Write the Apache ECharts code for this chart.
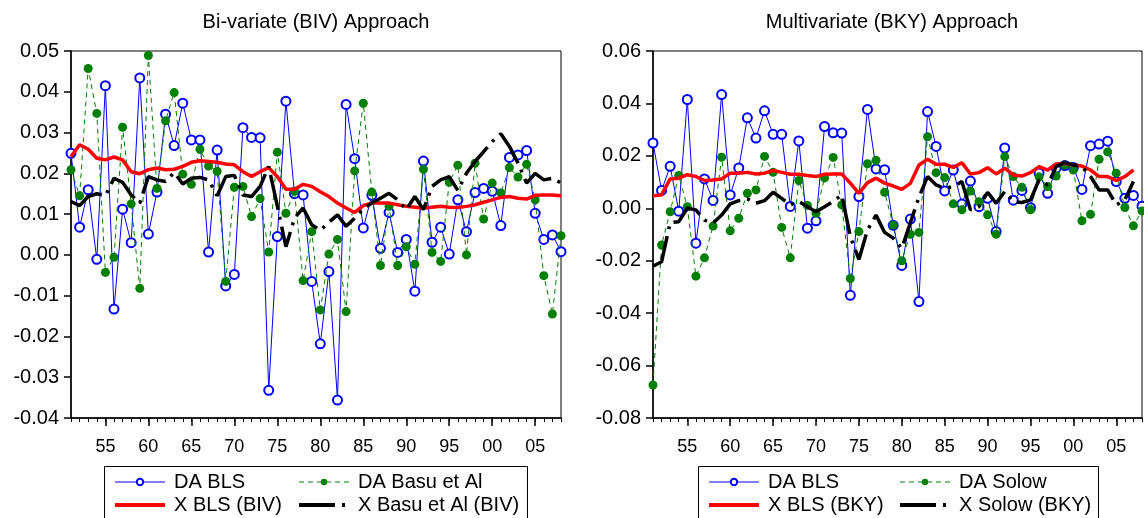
<!DOCTYPE html>
<html><head><meta charset="utf-8">
<script src="https://cdn.jsdelivr.net/npm/echarts@6/dist/echarts.min.js"></script>
<style>html,body{margin:0;padding:0;background:#fff}#c{width:1144px;height:518px}</style>
</head><body><div id="c"></div>
<script>
const years = [1951,1952,1953,1954,1955,1956,1957,1958,1959,1960,1961,1962,1963,1964,1965,1966,1967,1968,1969,1970,
1971,1972,1973,1974,1975,1976,1977,1978,1979,1980,1981,1982,1983,1984,1985,1986,1987,1988,1989,1990,
1991,1992,1993,1994,1995,1996,1997,1998,1999,2000,2001,2002,2003,2004,2005,2006,2007,2008];
const majorYears = [1955,1960,1965,1970,1975,1980,1985,1990,1995,2000,2005];

const daBLS = [0.0249,0.0068,0.0160,-0.0011,0.0415,-0.0133,0.0112,0.0030,0.0434,0.0051,
0.0154,0.0345,0.0268,0.0372,0.0282,0.0282,0.0007,0.0257,-0.0076,-0.0048,
0.0312,0.0288,0.0287,-0.0332,0.0045,0.0377,0.0150,0.0147,-0.0065,-0.0218,
-0.0041,-0.0356,0.0369,0.0236,0.0066,0.0146,0.0016,0.0104,0.0006,0.0038,
-0.0089,0.0230,0.0031,0.0068,0.0002,0.0135,0.0057,0.0153,0.0163,0.0156,
0.0072,0.0239,0.0245,0.0256,0.0102,0.0038,0.0049,0.0008];

const daBasu = [0.0209,0.0145,0.0457,0.0347,-0.0043,-0.0006,0.0313,0.0125,-0.0082,0.0489,
0.0163,0.0329,0.0398,0.0198,0.0173,0.0259,0.0218,0.0205,-0.0065,0.0166,
0.0168,0.0094,0.0138,0.0007,0.0252,0.0102,0.0156,-0.0063,0.0057,-0.0135,
0.0002,0.0038,-0.0139,0.0206,0.0372,0.0154,-0.0026,0.0119,-0.0026,0.0020,
-0.0023,0.0210,0.0006,-0.0016,0.0178,0.0220,0.0000,0.0225,0.0088,0.0176,
0.0152,0.0214,0.0191,0.0222,0.0135,-0.0051,-0.0145,0.0047];

const xBLSBIV = [0.0241,0.0270,0.0259,0.0237,0.0233,0.0240,0.0233,0.0204,0.0199,0.0209,
0.0213,0.0209,0.0210,0.0217,0.0227,0.0231,0.0229,0.0227,0.0223,0.0221,
0.0204,0.0192,0.0204,0.0214,0.0192,0.0161,0.0161,0.0173,0.0168,0.0155,
0.0143,0.0127,0.0115,0.0104,0.0121,0.0127,0.0127,0.0127,0.0123,0.0119,
0.0117,0.0115,0.0117,0.0119,0.0117,0.0116,0.0119,0.0123,0.0129,0.0135,
0.0141,0.0143,0.0139,0.0137,0.0146,0.0147,0.0147,0.0145];

const xBasuBIV = [0.0131,0.0121,0.0143,0.0150,0.0145,0.0188,0.0178,0.0147,0.0127,0.0192,
0.0184,0.0180,0.0202,0.0174,0.0188,0.0190,0.0184,0.0145,0.0192,0.0195,
0.0147,0.0143,0.0168,0.0217,0.0120,0.0020,0.0090,0.0115,0.0074,0.0060,
0.0080,0.0098,0.0070,0.0090,0.0113,0.0127,0.0139,0.0151,0.0135,0.0111,
0.0143,0.0111,0.0168,0.0184,0.0192,0.0158,0.0200,0.0229,0.0253,0.0278,
0.0297,0.0266,0.0225,0.0176,0.0200,0.0184,0.0188,0.0176];

const daSolow = [-0.0674,-0.0140,-0.0013,0.0125,0.0006,-0.0259,-0.0189,-0.0068,0.0195,-0.0086,
-0.0038,0.0057,0.0070,0.0198,0.0137,-0.0073,-0.0189,0.0106,0.0011,-0.0019,
0.0116,0.0194,0.0013,-0.0268,-0.0089,0.0170,0.0183,0.0061,-0.0064,-0.0200,
-0.0099,-0.0092,0.0273,0.0136,0.0117,0.0017,-0.0006,0.0066,0.0025,-0.0025,
-0.0099,0.0197,0.0121,0.0080,-0.0006,0.0120,0.0083,0.0123,0.0165,0.0146,
-0.0048,-0.0023,0.0187,0.0215,0.0134,0.0003,-0.0067,-0.0010];

const xBLSBKY = [0.0048,0.0051,0.0112,0.0115,0.0128,0.0121,0.0106,0.0108,0.0112,0.0134,
0.0134,0.0137,0.0131,0.0134,0.0144,0.0137,0.0130,0.0130,0.0125,0.0121,
0.0130,0.0131,0.0131,0.0096,0.0057,0.0098,0.0115,0.0096,0.0085,0.0072,
0.0095,0.0165,0.0187,0.0168,0.0168,0.0156,0.0174,0.0131,0.0136,0.0155,
0.0131,0.0153,0.0127,0.0123,0.0136,0.0159,0.0146,0.0169,0.0172,0.0165,
0.0161,0.0146,0.0121,0.0121,0.0106,0.0121,0.0146,null];

const xSolowBKY = [-0.0221,-0.0204,-0.0055,-0.0051,0.0000,-0.0006,-0.0045,-0.0057,-0.0026,0.0017,
0.0029,0.0036,0.0019,0.0029,0.0061,0.0038,0.0013,0.0026,0.0006,-0.0013,
0.0006,0.0026,0.0051,-0.0108,-0.0195,-0.0083,-0.0026,-0.0092,-0.0114,-0.0153,
-0.0055,0.0042,0.0121,0.0089,0.0076,0.0083,0.0102,-0.0006,0.0006,0.0061,
0.0019,0.0064,0.0025,0.0022,0.0032,0.0108,0.0089,0.0159,0.0175,0.0165,
0.0159,0.0121,0.0070,0.0070,0.0013,0.0032,0.0102,null];

const FONT = '"Liberation Sans", Arial, Helvetica, sans-serif';
const chart = echarts.init(document.getElementById('c'));

function pairs(arr){ return years.map((y,i)=>[y, arr[i]]); }
function xAxesFor(g){
  return [
    {type:'value', gridIndex:g, min:1951, max:2008, position:'bottom',
     axisLine:{show:true, onZero:false, lineStyle:{color:'#000', width:1.5}},
     axisTick:{show:true, customValues:majorYears, length:8, inside:false, lineStyle:{color:'#000', width:1.5}},
     axisLabel:{customValues:majorYears, formatter:v=>String(v%100).padStart(2,'0'), fontSize:18, color:'#000', fontFamily:FONT, margin:20},
     splitLine:{show:false}},
    {type:'value', gridIndex:g, min:1951, max:2008, interval:1, position:'bottom',
     axisLine:{show:false, onZero:false},
     axisTick:{show:true, length:4, lineStyle:{color:'#000', width:1}},
     axisLabel:{show:false}, splitLine:{show:false}}
  ];
}
function yAxisFor(g, min, max, interval){
  return {type:'value', gridIndex:g, min, max, interval,
    axisLine:{show:true, onZero:false, lineStyle:{color:'#000', width:1.5}},
    axisTick:{show:true, length:7, lineStyle:{color:'#000', width:1.5}},
    axisLabel:{formatter:v=>v.toFixed(2), fontSize:20, color:'#000', fontFamily:FONT, margin:12},
    splitLine:{show:false}};
}
function blue(xi, yi){
  return {type:'line', name:'DA BLS', xAxisIndex:xi, yAxisIndex:yi, data:pairs(daBLS),
    symbol:'emptyCircle', symbolSize:9, showAllSymbol:true,
    lineStyle:{color:'#0000ff', width:1}, itemStyle:{color:'#0000ff', borderColor:'#0000ff', borderWidth:1},
    emphasis:{disabled:true}, z:2};
}
function green(name, arr, xi, yi){
  return {type:'line', name, xAxisIndex:xi, yAxisIndex:yi, data:pairs(arr),
    symbol:'circle', symbolSize:9, showAllSymbol:true,
    lineStyle:{color:'#008000', width:1, type:[5,4]}, itemStyle:{color:'#008000'},
    emphasis:{disabled:true}, z:3};
}
function red(name, arr, xi, yi){
  return {type:'line', name, xAxisIndex:xi, yAxisIndex:yi, data:pairs(arr),
    symbol:'none', connectNulls:false,
    lineStyle:{color:'#ff0000', width:3.5}, itemStyle:{color:'#ff0000'},
    emphasis:{disabled:true}, z:4};
}
function black(name, arr, xi, yi){
  return {type:'line', name, xAxisIndex:xi, yAxisIndex:yi, data:pairs(arr),
    symbol:'none', connectNulls:false,
    lineStyle:{color:'#000000', width:3.5, type:[36,7,3,7]}, itemStyle:{color:'#000000'},
    emphasis:{disabled:true}, z:5};
}
function legendAt(left, markerName, lineName){
  return {orient:'vertical', left, top:472, padding:0, itemGap:3, itemWidth:50, itemHeight:8,
    selectedMode:false,
    data:[{name:markerName, lineStyle:{width:1}},
          {name:lineName, itemStyle:{opacity:0}, lineStyle:{width:4}}],
    textStyle:{fontSize:20, color:'#000', fontFamily:FONT, padding:[0,0,0,4]}};
}
const titleStyle = {fontSize:20, fontWeight:'normal', color:'#000', fontFamily:FONT};

chart.setOption({
  animation:false,
  backgroundColor:'#fff',
  title:[
    {text:'Bi-variate (BIV) Approach', left:316, top:12, padding:0, textAlign:'center', textStyle:titleStyle},
    {text:'Multivariate (BKY) Approach', left:892, top:12, padding:0, textAlign:'center', textStyle:titleStyle}
  ],
  grid:[
    {left:71, top:51, width:490, height:367, show:true, borderColor:'#000', borderWidth:1, backgroundColor:'transparent'},
    {left:653, top:51, width:489, height:367, show:true, borderColor:'#000', borderWidth:1, backgroundColor:'transparent'}
  ],
  xAxis:[...xAxesFor(0), ...xAxesFor(1)],
  yAxis:[yAxisFor(0,-0.04,0.05,0.01), yAxisFor(1,-0.08,0.06,0.02)],
  legend:[
    legendAt(113, 'DA BLS', 'X BLS (BIV)'),
    legendAt(297, 'DA Basu et Al', 'X Basu et Al (BIV)'),
    legendAt(707, 'DA BLS', 'X BLS (BKY)'),
    legendAt(898, 'DA Solow', 'X Solow (BKY)')
  ],
  graphic:[
    {type:'rect', silent:true, shape:{x:104.5, y:466.5, width:423, height:80}, style:{fill:'none', stroke:'#000', lineWidth:1}},
    {type:'rect', silent:true, shape:{x:698.5, y:466.5, width:400, height:80}, style:{fill:'none', stroke:'#000', lineWidth:1}}
  ],
  series:[
    blue(0,0),
    green('DA Basu et Al', daBasu, 0, 0),
    red('X BLS (BIV)', xBLSBIV, 0, 0),
    black('X Basu et Al (BIV)', xBasuBIV, 0, 0),
    blue(2,1),
    green('DA Solow', daSolow, 2, 1),
    red('X BLS (BKY)', xBLSBKY, 2, 1),
    black('X Solow (BKY)', xSolowBKY, 2, 1)
  ]
});
</script>
</body></html>
